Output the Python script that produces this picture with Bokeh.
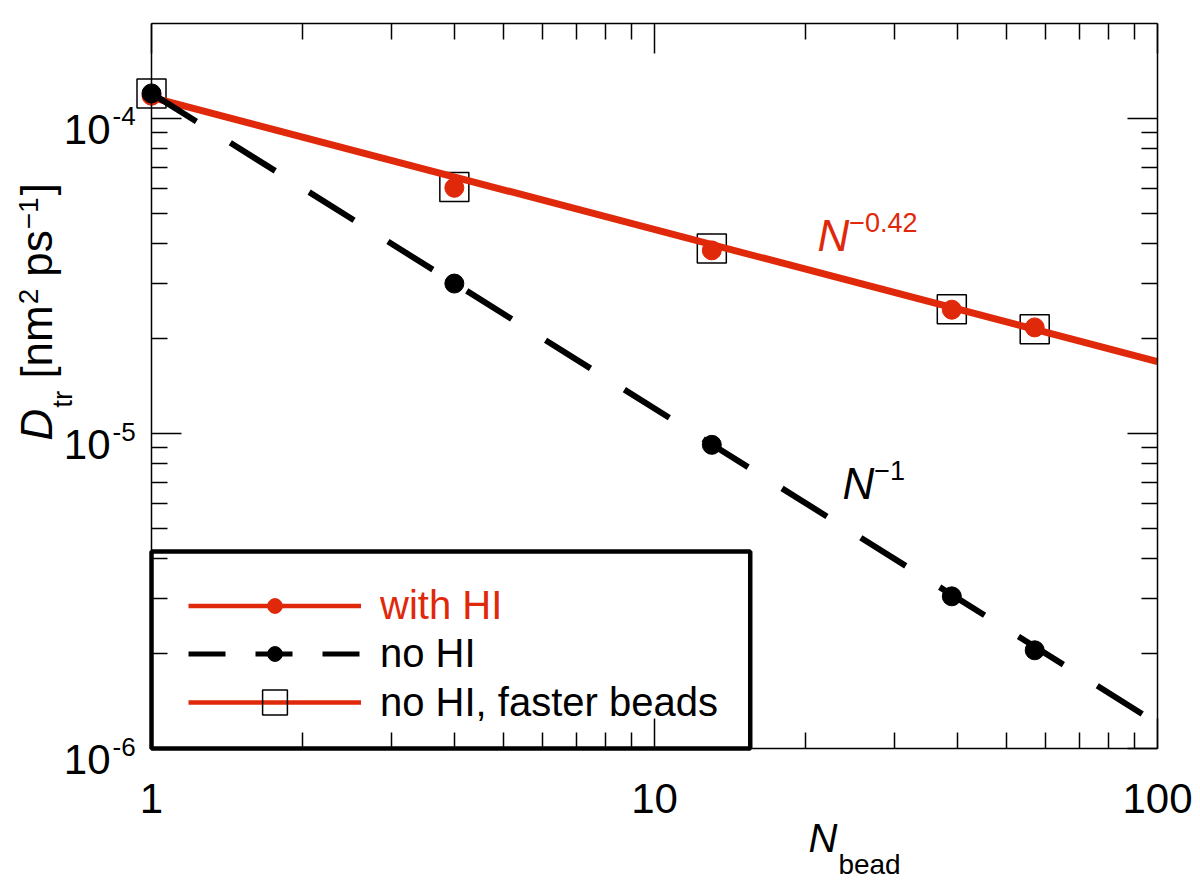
import math
from bokeh.plotting import figure
from bokeh.models import (Range1d, LogAxis, FixedTicker, Label, Legend, LegendItem,
                          BoxAnnotation, CustomJSTickFormatter)
from bokeh.embed import file_html
from bokeh.resources import INLINE

# ---------------- data ----------------
n_bead = [1, 4, 13, 39, 57]
d_with_hi = [1.18e-4, 6.02e-5, 3.81e-5, 2.47e-5, 2.17e-5]
d_no_hi = [1.20e-4, 2.99e-5, 9.2e-6, 3.04e-6, 2.05e-6]
d_no_hi_fast = [1.20e-4, 6.05e-5, 3.86e-5, 2.48e-5, 2.14e-5]

fit_n = [1, 100]
fit_with_hi = [1.166e-4, 1.69e-5]   # ~ N^-0.42
fit_no_hi = [1.20e-4, 1.20e-6]      # ~ N^-1

x_lim = (1, 100)
y_lim = (1e-6, 2.0e-4)
x_ticks = [1, 10, 100]
x_tick_labels = ["1", "10", "100"]
y_ticks = [1e-6, 1e-5, 1e-4]
y_tick_exps = ["-6", "-5", "-4"]

RED = "#e0280a"
FONT = "Liberation Sans"

# ---------------- layout (pixels) ----------------
FL, FT, FW, FH = 5, 5, 1189, 877            # bokeh frame (covers nearly whole canvas)
BOX_L, BOX_R, BOX_T, BOX_B = 151, 1157, 23, 748   # visible axes box
dec_x = (BOX_R - BOX_L) / math.log10(x_lim[1] / x_lim[0])
dec_y = (BOX_B - BOX_T) / math.log10(y_lim[1] / y_lim[0])
x_start = x_lim[0] * 10 ** ((FL - BOX_L) / dec_x)
x_end = x_lim[0] * 10 ** ((FL + FW - BOX_L) / dec_x)
y_start = y_lim[0] * 10 ** (-(FT + FH - BOX_B) / dec_y)
y_end = y_lim[0] * 10 ** ((BOX_B - FT) / dec_y)

x_minor = [m * 10 ** e for e in (0, 1) for m in range(2, 10)]
y_minor = [m * 10.0 ** e for e in (-6, -5, -4) for m in range(2, 10) if m * 10.0 ** e < 1.95e-4]

p = figure(x_axis_type="log", y_axis_type="log",
           x_range=Range1d(x_start, x_end), y_range=Range1d(y_start, y_end),
           frame_width=FW, frame_height=FH,
           min_border_left=FL, min_border_right=4,
           min_border_top=FT, min_border_bottom=4,
           output_backend="svg", toolbar_location=None,
           background_fill_color="white", border_fill_color="white")
p.grid.visible = False
p.outline_line_color = None

blank = CustomJSTickFormatter(code="return ''")


def style_axis(ax, ticks, minor, loc, bounds):
    ax.ticker = FixedTicker(ticks=ticks, minor_ticks=minor)
    ax.formatter = blank
    ax.major_label_text_font_size = "2px"
    ax.fixed_location = loc
    ax.bounds = bounds
    ax.major_tick_in = 30
    ax.major_tick_out = 0
    ax.minor_tick_in = 16
    ax.minor_tick_out = 0
    ax.axis_line_color = "black"
    ax.axis_line_width = 1.5
    ax.major_tick_line_width = 1.5
    ax.minor_tick_line_width = 1.5
    ax.major_tick_line_color = "black"
    ax.minor_tick_line_color = "black"
    ax.major_label_standoff = 0


style_axis(p.xaxis[0], x_ticks, x_minor, y_lim[0], x_lim)
style_axis(p.yaxis[0], y_ticks, y_minor, x_lim[0], y_lim)
top = LogAxis()
style_axis(top, x_ticks, x_minor, y_lim[1], x_lim)
p.add_layout(top, "above")
right = LogAxis()
style_axis(right, y_ticks, y_minor, x_lim[1], y_lim)
p.add_layout(right, "right")

# ---------------- data renderers ----------------
p.scatter(n_bead, d_no_hi_fast, marker="square", size=29,
          fill_color=None, line_color="black", line_width=1.5)
p.line(fit_n, fit_with_hi, line_color=RED, line_width=7)
p.scatter(n_bead, d_with_hi, marker="circle", size=19,
          fill_color=RED, line_color=RED)
p.line(fit_n, fit_no_hi, line_color="black", line_width=6, line_dash="53 40")
p.scatter(n_bead, d_no_hi, marker="circle", size=19,
          fill_color="black", line_color="black")

# ---------------- legend (hidden proxy renderers for legend styling) ----------------
lg_red_line = p.line(fit_n, fit_with_hi, line_color=RED, line_width=4.5, visible=False)
lg_red_dot = p.scatter(n_bead, d_with_hi, marker="circle", fill_color=RED,
                       line_color=RED, visible=False)
lg_blk_line = p.line(fit_n, fit_no_hi, line_color="black", line_width=5,
                     line_dash="37 30", visible=False)
lg_blk_dot = p.scatter(n_bead, d_no_hi, marker="circle", fill_color="black",
                       line_color="black", visible=False)
lg_sq = p.scatter(n_bead, d_no_hi_fast, marker="square", fill_color=None,
                  line_color="black", line_width=1.5, visible=False)

FB = FT + FH  # frame bottom in canvas px


def add_legend(label, renderers, color, gh, bottom_px):
    lg = Legend(items=[LegendItem(label=label, renderers=renderers)],
                location=(188 - FL, FB - bottom_px), orientation="vertical",
                glyph_width=173, glyph_height=gh, label_height=46,
                label_standoff=19, label_text_font=FONT,
                label_text_font_size="40px", label_text_color=color,
                padding=0, margin=0, spacing=0,
                border_line_alpha=0, background_fill_alpha=0)
    p.add_layout(lg)


add_legend("with HI", [lg_red_line, lg_red_dot], RED, 37, 628)
add_legend("no HI", [lg_blk_line, lg_blk_dot], "black", 37, 676)
add_legend("no HI, faster beads", [lg_red_line, lg_sq], "black", 62, 733)

p.add_layout(BoxAnnotation(left=x_lim[0], right=15.5, bottom=y_lim[0], top=4.22e-6,
                           fill_color=None, fill_alpha=0,
                           line_color="black", line_alpha=1.0, line_width=4.5))

# ---------------- texts ----------------
W = {" ": 278, "[": 278, "]": 278, "n": 556, "m": 833, "p": 556, "s": 500,
     "t": 278, "r": 333, "D": 722, "N": 722, "b": 556, "e": 556, "a": 556,
     "d": 556, ".": 278, "\u2212": 584, "-": 333}
BASE_K = 0.38   # baseline correction (fraction of font size)


def tw(s, size):
    return sum(W.get(c, 556) for c in s) / 1000.0 * size


def label(text, x, y, xo, yo, size, align="left", italic=False, color="black", angle=0.0):
    corr = BASE_K * size
    if angle == 0.0:
        yo = yo + corr
    else:
        xo = xo - corr
    p.add_layout(Label(x=x, y=y, x_offset=xo, y_offset=yo, text=text,
                       angle=angle, text_align=align, text_baseline="alphabetic",
                       text_font=FONT, text_font_size=f"{size}px",
                       text_font_style="italic" if italic else "normal",
                       text_color=color))


def rich(pieces, xo, yo, angle=0.0):
    """pieces: (text, size, italic, baseline shift, color, gap before in px)"""
    adv = 0.0
    for text, size, italic, shift, color, gap in pieces:
        adv += gap
        if angle == 0.0:
            label(text, x_lim[0], y_lim[0], xo + adv, yo + shift, size, italic=italic, color=color)
        else:
            label(text, x_lim[0], y_lim[0], xo - shift, yo + adv, size, italic=italic,
                  color=color, angle=angle)
        adv += tw(text, size)


# tick labels
for xt, txt in zip(x_ticks, x_tick_labels):
    label(txt, xt, y_lim[0], 0, -66, 42, align="center")
for yt, ex in zip(y_ticks, y_tick_exps):
    label("10", x_lim[0], yt, -41, -27, 42, align="right")
    label(ex, x_lim[0], yt, -39, -8, 26, align="left")

# axis titles
rich([("N", 40, True, 0, "black", 0), ("bead", 28, False, -22, "black", 1)], 657, -105)
rich([("D", 44, True, 0, "black", 0), ("tr", 28, False, -20, "black", 1),
      ("[nm", 44, False, 0, "black", 12), ("2", 28, False, 14, "black", 1),
      ("ps", 44, False, 0, "black", 12), ("\u22121", 28, False, 14, "black", 1),
      ("]", 44, False, 0, "black", 2)], -98, 308, angle=math.pi / 2)

# power-law annotations
rich([("N", 44, True, 0, RED, 0), ("\u22120.42", 27, False, 20, RED, 0)], 666, 496)
rich([("N", 44, True, 0, "black", 0), ("\u22121", 27, False, 20, "black", 0)], 691, 248)

open("out.html", "w").write(file_html(p, INLINE))
